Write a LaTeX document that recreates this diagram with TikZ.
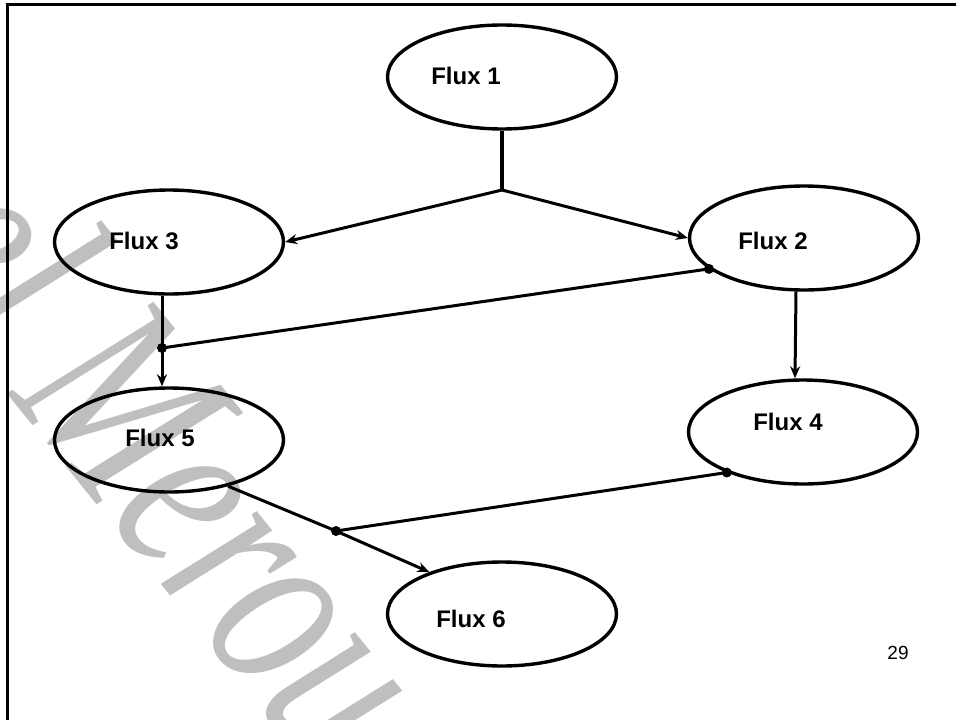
\documentclass[tikz,border=0pt]{standalone}
\usepackage{fontspec}
\setmainfont{Liberation Sans}
\newfontfamily\wmfont{Liberation Serif}
\usetikzlibrary{arrows.meta,shapes.geometric}
\begin{document}
\begin{tikzpicture}[x=1pt,y=-1pt,
  flux/.style={draw, line width=3.4pt, ellipse, minimum width=229pt, minimum height=104pt, inner sep=0pt},
  lbl/.style={font=\fontsize{24}{28}\selectfont\bfseries, inner sep=0pt},
  conn/.style={line width=3pt},
  arr/.style={conn, -{Stealth[length=12pt,width=10pt]}},
  jdot/.style={circle, fill=black, inner sep=0pt, minimum size=10pt},
]
\useasboundingbox (0,0) rectangle (956,720);
\fill[white] (0,0) rectangle (956,720);
% watermark
\node[text=black!25, font=\fontsize{190}{190}\selectfont\wmfont\itshape, rotate=-51, xscale=0.97, yscale=1.38, anchor=base west, inner sep=0pt] (wm) at (-104,256) {el Merou};
% frame
\draw[line width=3pt] (7,720) -- (7,4) -- (956,4);
% ellipses
\node[flux] (f1) at (502,77) {};
\node[flux] (f3) at (169,242) {};
\node[flux] (f2) at (804,238) {};
\node[flux] (f4) at (803,432) {};
\node[flux] (f5) at (169,440) {};
\node[flux] (f6) at (502,614) {};
% labels
\node[lbl] (t1) at (466,76) {Flux 1};
\node[lbl] (t3) at (144,241) {Flux 3};
\node[lbl] (t2) at (773,241) {Flux 2};
\node[lbl] (t4) at (788,422) {Flux 4};
\node[lbl] (t5) at (160,438) {Flux 5};
\node[lbl] (t6) at (471,619) {Flux 6};
\node[font=\fontsize{19}{22}\selectfont, inner sep=0pt] (pg) at (898,653) {29};
% connectors
\coordinate (j1) at (502,190);
\draw[line width=4.5pt] (f1.south) -- (j1);
\draw[arr] (j1) -- (f3.east);
\draw[arr] (j1) -- (f2.west);
\node[jdot] (j2) at (162,348) {};
\draw[conn] ([xshift=-7pt]f3.south) -- (j2.center);
\draw[arr] (j2.center) -- ([xshift=-7pt]f5.north);
\node[jdot] (d2) at (f2.-162) {};
\draw[conn] (d2.center) -- (j2.center);
\draw[arr] ([xshift=-8pt]f2.south) -- ([xshift=-8pt]f4.north);
\node[jdot] (d4) at (f4.-152) {};
\node[jdot] (j3) at (336,531) {};
\draw[conn] (d4.center) -- (j3.center);
\draw[conn] (f5.-38) -- (j3.center);
\draw[arr] (j3.center) -- (f6.150);
\end{tikzpicture}
\end{document}
